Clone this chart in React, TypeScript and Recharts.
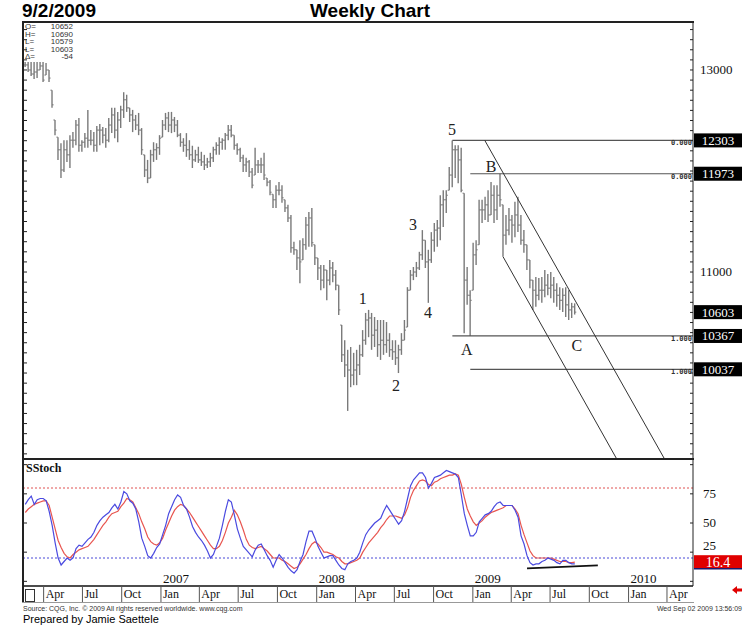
import { ComposedChart, Bar, Line, XAxis, YAxis, ReferenceLine, ReferenceDot } from 'recharts';

// x values are days since Jan 1 2006; first weekly bar is Fri Feb 17 2006
const FIRST_DAY = 47;

const HIGH = [
  13080, 13080, 13080, 13080, 13080, 13080, 13080, 13070, 13000, 12800,
  12505, 12335, 12275, 12305, 12305, 12355, 12385, 12505, 12525, 12305,
  12375, 12605, 12405, 12385, 12445, 12465, 12435, 12425, 12525, 12625,
  12625, 12585, 12645, 12780, 12755, 12625, 12605, 12555, 12575, 12425,
  12160, 12110, 12210, 12285, 12275, 12355, 12505, 12575, 12585, 12585,
  12535, 12505, 12375, 12325, 12375, 12305, 12250, 12210, 12240, 12190,
  12160, 12130, 12180, 12240, 12285, 12335, 12325, 12375, 12455, 12455,
  12355, 12275, 12230, 12160, 12130, 12110, 12030, 12230, 12110, 12130,
  12180, 11930, 11910, 11770, 11860, 11890, 11860, 11715, 11665, 11565,
  11300, 11220, 11315, 11335, 11545, 11595, 11635, 11270, 11140, 11070,
  11070, 11020, 11120, 11100, 11020, 10870, 10475, 10325, 10230, 10258,
  10200, 10230, 10280, 10425, 10595, 10625, 10595, 10555, 10525, 10525,
  10525, 10505, 10395, 10325, 10325, 10280, 10395, 10525, 10850, 11020,
  11050, 11100, 11200, 11415, 11315, 11220, 11395, 11485, 11515, 11760,
  11810, 11810, 12040, 12303, 12255, 12255, 12230, 11780, 11050, 10820,
  11290, 11315, 11715, 11715, 11745, 11810, 11890, 11860, 11860, 11973,
  11665, 11565, 11635, 11565, 11695, 11745, 11565, 11415, 11270, 11120,
  10920, 10950, 10940, 10950, 11020, 10980, 11000, 10950, 10890, 10850,
  10840, 10850, 10820, 10695, 10690,
];

const LOW = [
  13030, 12980, 12940, 12910, 12920, 13000, 12880, 12950, 12880, 12625,
  12355, 12110, 11930, 11990, 12090, 12030, 12230, 12255, 12190, 12190,
  12230, 12230, 12255, 12190, 12190, 12255, 12275, 12230, 12285, 12375,
  12325, 12285, 12425, 12525, 12585, 12485, 12385, 12405, 12355, 12160,
  11940, 11880, 11930, 12090, 12110, 12160, 12335, 12405, 12385, 12375,
  12385, 12335, 12240, 12190, 12140, 12110, 12030, 12090, 12080, 12050,
  12010, 12030, 12040, 12090, 12160, 12160, 12210, 12210, 12305, 12335,
  12210, 12160, 12090, 11990, 11990, 11940, 11830, 11960, 11980, 11980,
  11910, 11850, 11760, 11635, 11635, 11760, 11685, 11595, 11495, 11190,
  11170, 11020, 10890, 11120, 11220, 11250, 11250, 11070, 10920, 10820,
  10840, 10720, 10870, 10900, 10820, 10575, 10110, 9960, 9625, 9860,
  9880, 9880, 9980, 10160, 10280, 10355, 10230, 10258, 10160, 10130,
  10180, 10200, 10160, 10130, 10080, 10000, 10180, 10325, 10455, 10820,
  10920, 10950, 11020, 11120, 11040, 10695, 11090, 11200, 11250, 11315,
  11445, 11585, 11810, 11840, 11930, 11880, 11790, 10395, 10675, 10367,
  10820, 11070, 11270, 11485, 11515, 11495, 11565, 11485, 11515, 11645,
  11150, 11270, 11365, 11290, 11345, 11395, 11270, 11190, 11020, 10840,
  10625, 10655, 10720, 10695, 10750, 10770, 10740, 10695, 10655, 10625,
  10605, 10555, 10525, 10545, 10579,
];

const CLOSE = [
  13050, 13000, 12960, 12980, 13000, 13040, 12900, 13000, 12920, 12655,
  12405, 12210, 12010, 12210, 12160, 12305, 12305, 12455, 12255, 12285,
  12325, 12305, 12305, 12255, 12405, 12405, 12355, 12305, 12455, 12555,
  12405, 12505, 12605, 12705, 12625, 12555, 12505, 12455, 12405, 12210,
  12010, 11930, 12160, 12210, 12230, 12325, 12455, 12525, 12455, 12505,
  12455, 12355, 12285, 12255, 12210, 12160, 12110, 12160, 12110, 12090,
  12060, 12090, 12130, 12210, 12255, 12285, 12305, 12355, 12405, 12355,
  12255, 12210, 12130, 12060, 12090, 11990, 11860, 12060, 12060, 12060,
  11960, 11890, 11790, 11715, 11810, 11810, 11735, 11635, 11535, 11240,
  11220, 11140, 11100, 11270, 11465, 11535, 11290, 11140, 11040, 10920,
  11020, 10920, 11040, 10970, 10870, 10625, 10180, 10080, 10030, 9980,
  10030, 10080, 10180, 10325, 10525, 10545, 10375, 10425, 10280, 10325,
  10280, 10325, 10230, 10210, 10150, 10230, 10325, 10425, 10820, 10970,
  11000, 11040, 11170, 11315, 11100, 11120, 11315, 11415, 11435, 11665,
  11715, 11760, 11960, 12210, 12210, 12110, 11810, 10920, 10770, 10720,
  11170, 11220, 11615, 11615, 11665, 11565, 11760, 11615, 11760, 11715,
  11365, 11415, 11515, 11465, 11565, 11465, 11315, 11270, 11120, 10920,
  10820, 10770, 10820, 10820, 10870, 10840, 10870, 10820, 10770, 10720,
  10770, 10675, 10625, 10655, 10603,
];

const STOCH_K = [
  66, 70, 73, 66, 70, 71, 71, 69, 60, 48,
  33, 20, 14, 17, 20, 18, 20, 28, 31, 30,
  33, 36, 38, 42, 48, 52, 55, 57, 59, 63,
  66, 62, 68, 77, 75, 69, 67, 62, 51, 37,
  30, 22, 20, 24, 29, 32, 40, 48, 58, 64,
  70, 74, 72, 65, 62, 55, 47, 42, 38, 35,
  31, 26, 20, 23, 30, 37, 48, 60, 70, 68,
  57, 45, 37, 30, 27, 24, 21, 27, 31, 32,
  27, 22, 18, 12, 18, 23, 20, 16, 12, 9,
  7, 10, 17, 23, 34, 43, 43, 37, 30, 25,
  20, 21, 22, 22, 18, 14, 11, 10, 15, 17,
  18, 20, 25, 33, 40, 44, 47, 50, 52, 54,
  60, 65, 61, 57, 53, 49, 52, 60, 71, 82,
  87, 90, 93, 93, 89, 80, 84, 89, 90, 91,
  93, 95, 94, 93, 92, 89, 74, 58, 48, 39,
  39, 42, 51, 54, 57, 58, 60, 64, 67, 68,
  65, 65, 65, 65, 61, 55, 39, 32, 22, 16,
  14, 15, 15, 17, 18, 20, 19, 18, 16, 15,
  18, 18, 16, 15, 15,
];

const STOCH_D = [
  59, 62, 64, 66, 67, 68, 69, 69, 65, 55,
  45, 35, 29, 24, 21, 20, 23, 25, 27, 28,
  29, 30, 33, 36, 40, 44, 48, 51, 55, 58,
  59, 60, 64, 67, 71, 70, 68, 63, 58, 51,
  45, 38, 34, 32, 31, 33, 37, 44, 50, 56,
  61, 64, 66, 65, 62, 59, 55, 51, 47, 43,
  39, 35, 31, 28, 28, 30, 35, 42, 50, 55,
  61, 57, 51, 44, 36, 31, 29, 28, 29, 30,
  28, 26, 23, 20, 20, 20, 18, 17, 15, 13,
  11, 12, 15, 19, 23, 28, 32, 34, 32, 29,
  25, 25, 24, 23, 21, 20, 17, 15, 15, 16,
  17, 18, 20, 25, 29, 33, 36, 39, 42, 46,
  49, 53, 56, 56, 56, 55, 54, 57, 63, 72,
  78, 82, 86, 87, 86, 83, 82, 85, 86, 88,
  89, 90, 91, 91, 92, 91, 83, 72, 62, 56,
  51, 48, 50, 52, 55, 57, 59, 60, 61, 62,
  63, 65, 65, 65, 62, 58, 48, 40, 33, 26,
  22, 20, 20, 20, 20, 20, 20, 19, 18, 17,
  17, 17, 16, 16, 16.4,
];

const MONTH_TICKS = [90, 181, 273, 365, 455, 546, 638, 730, 821, 912, 1004, 1096, 1186, 1277, 1369, 1461, 1551];
const MONTH_LABELS = ['Apr', 'Jul', 'Oct', 'Jan', 'Apr', 'Jul', 'Oct', 'Jan', 'Apr', 'Jul', 'Oct', 'Jan', 'Apr', 'Jul', 'Oct', 'Jan', 'Apr'];
const YEAR_LABELS: Record<number, string> = { 365: '2007', 730: '2008', 1096: '2009', 1461: '2010' };

const X_DOMAIN = [44, 1612];
const PRICE_DOMAIN = [9159, 13475];
const STOCH_DOMAIN = [-4, 104];

const PRICE_LABELS = [13000, 11000];
const PRICE_TAGS = [12303, 11973, 10603, 10367, 10037];
const FIB_TEXT: Record<number, string> = { 12303: '0.000', 11973: '0.000', 10367: '1.000', 10037: '1.000' };
const LEVELS = [
  { price: 12303, from: 1048 },
  { price: 11973, from: 1090 },
  { price: 10367, from: 1048 },
  { price: 10037, from: 1090 },
];
const CHANNEL = [
  [{ x: 1124, y: 12303 }, { x: 1544, y: 9159 }],
  [{ x: 1167, y: 11150 }, { x: 1432, y: 9159 }],
];
const WAVES = [
  { text: '5', day: 1047, price: 12406 },
  { text: 'B', day: 1139, price: 12040 },
  { text: '3', day: 956, price: 11475 },
  { text: '1', day: 838, price: 10733 },
  { text: '4', day: 991, price: 10604 },
  { text: '2', day: 916, price: 9872 },
  { text: 'A', day: 1082, price: 10238 },
  { text: 'C', day: 1340, price: 10277 },
];

const STOCH_LABELS = [75, 50, 25];
const STOCH_LAST = 16.4;
const STOCH_TREND = [{ x: 1223, y: 11.1 }, { x: 1389, y: 13.7 }];

const INFO = [
  ['O=', '10652'],
  ['H=', '10690'],
  ['L=', '10579'],
  ['L=', '10603'],
  ['\u0394=', '-54'],
];

const SERIF = 'Liberation Serif, Times New Roman, serif';
const SANS = 'Liberation Sans, Arial, sans-serif';
const PLOT_LEFT = 24;

const rows = HIGH.map((high, i) => ({
  day: FIRST_DAY + 7 * i,
  range: [LOW[i], high],
  open: i === 0 ? CLOSE[0] : CLOSE[i - 1],
  close: CLOSE[i],
  k: STOCH_K[i],
  d: STOCH_D[i],
}));

const minorPriceTicks: number[] = [];
for (let p = 9200; p <= 13400; p += 100) minorPriceTicks.push(p);

function OhlcShape(props: any) {
  const { x, y, width, height, payload } = props;
  if (!payload) return null;
  const [lo, hi] = payload.range;
  const top = Math.min(y, y + height);
  const h = Math.abs(height);
  const cx = x + width / 2;
  const span = hi - lo || 1;
  const at = (v: number) => top + (Math.min(Math.max(hi - v, 0), span) / span) * h;
  return (
    <g stroke="#7a7a7a">
      <line x1={cx} x2={cx} y1={top} y2={top + h} strokeWidth={1.4} />
      <line x1={cx - 1.6} x2={cx} y1={at(payload.open)} y2={at(payload.open)} strokeWidth={1} />
      <line x1={cx} x2={cx + 1.6} y1={at(payload.close)} y2={at(payload.close)} strokeWidth={1} />
    </g>
  );
}

function PriceTick(props: any) {
  const { x, y, payload } = props;
  const v = payload.value;
  if (PRICE_TAGS.includes(v)) {
    return (
      <g>
        {FIB_TEXT[v] && (
          <text x={x - 1} y={y + 5} textAnchor="end" fontSize={7} fontWeight="bold" fontFamily="DejaVu Sans Mono, monospace" fill="#333">
            {FIB_TEXT[v]}
          </text>
        )}
        <rect x={x + 1} y={y - 7} width={48} height={14} fill="#000" />
        <text x={x + 25} y={y + 4.5} textAnchor="middle" fontSize={13} fontFamily={SERIF} fill="#fff">
          {v}
        </text>
      </g>
    );
  }
  return (
    <g>
      <line x1={x - 3} x2={x} y1={y} y2={y} stroke="#222" />
      <line x1={PLOT_LEFT} x2={PLOT_LEFT + 3} y1={y} y2={y} stroke="#222" />
      {PRICE_LABELS.includes(v) && (
        <text x={x + 7} y={y + 4} fontSize={13} fontFamily={SERIF} fill="#111">
          {v}
        </text>
      )}
    </g>
  );
}

function StochTick(props: any) {
  const { x, y, payload } = props;
  const v = payload.value;
  if (v === STOCH_LAST) {
    return (
      <g>
        <rect x={x + 1} y={y - 7} width={48} height={13} fill="#e00000" />
        <line x1={x + 1} x2={x + 49} y1={y + 6.5} y2={y + 6.5} stroke="#1a1a70" strokeWidth={1.5} />
        <text x={x + 25} y={y + 4.5} textAnchor="middle" fontSize={14} fontFamily={SERIF} fill="#fff">
          {v}
        </text>
      </g>
    );
  }
  // the 25 label sits just above the red value box
  const dy = v === 25 ? -2 : 4;
  return (
    <g>
      <line x1={x - 3} x2={x} y1={y} y2={y} stroke="#222" />
      <line x1={PLOT_LEFT} x2={PLOT_LEFT + 3} y1={y} y2={y} stroke="#222" />
      {STOCH_LABELS.includes(v) && (
        <text x={x + 10} y={y + dy} fontSize={13} fontFamily={SERIF} fill="#111">
          {v}
        </text>
      )}
    </g>
  );
}

function MonthTick(props: any) {
  const { x, y, payload } = props;
  const i = MONTH_TICKS.indexOf(payload.value);
  const year = YEAR_LABELS[payload.value];
  return (
    <g>
      <line x1={x} x2={x} y1={y} y2={y + 16} stroke="#555" />
      <text x={x + 2} y={y + 12} fontSize={12} fontFamily={SERIF} fill="#111">
        {MONTH_LABELS[i]}
      </text>
      {year && (
        <text x={x + 2} y={y - 3} fontSize={13} fontFamily={SERIF} fill="#111">
          {year}
        </text>
      )}
    </g>
  );
}

const line = (left: number, top: number, width: number, height: number, color = '#222') => (
  <div style={{ position: 'absolute', left, top, width, height, background: color }} />
);

export default function App() {
  return (
    <div style={{ position: 'absolute', left: 0, top: 0, width: 749, height: 628, background: '#fff', overflow: 'hidden' }}>
      <div style={{ position: 'absolute', left: 22, top: 1, fontFamily: SANS, fontWeight: 'bold', fontSize: 19, lineHeight: '19px', color: '#000' }}>
        9/2/2009
      </div>
      <div style={{ position: 'absolute', left: 310, top: 1, fontFamily: SANS, fontWeight: 'bold', fontSize: 19, lineHeight: '19px', color: '#000' }}>
        Weekly Chart
      </div>

      <div style={{ position: 'absolute', left: 0, top: 0 }}>
        <ComposedChart width={749} height={460} data={rows} margin={{ top: 22, right: 0, bottom: 2, left: PLOT_LEFT }}>
          <XAxis dataKey="day" type="number" domain={X_DOMAIN} hide allowDataOverflow />
          <YAxis
            orientation="right"
            width={56}
            domain={PRICE_DOMAIN}
            allowDataOverflow
            ticks={[...minorPriceTicks, ...PRICE_TAGS]}
            interval={0}
            tick={PriceTick}
            tickLine={false}
            tickSize={0}
            tickMargin={0}
            axisLine={{ stroke: '#222' }}
          />
          {LEVELS.map((l) => (
            <ReferenceLine
              key={l.price}
              segment={[{ x: l.from, y: l.price }, { x: X_DOMAIN[1], y: l.price }]}
              stroke="#555"
              strokeWidth={1.2}
              ifOverflow="hidden"
            />
          ))}
          {CHANNEL.map((seg, i) => (
            <ReferenceLine key={i} segment={seg} stroke="#333" strokeWidth={1} ifOverflow="hidden" />
          ))}
          <Bar dataKey="range" barSize={3} shape={OhlcShape} isAnimationActive={false} />
          {WAVES.map((w) => (
            <ReferenceDot
              key={w.text}
              x={w.day}
              y={w.price}
              r={1}
              ifOverflow="visible"
              shape={(p: any) => (
                <text x={p.cx} y={p.cy} textAnchor="middle" dominantBaseline="central" fontSize={16} fontFamily={SERIF} fill="#222">
                  {w.text}
                </text>
              )}
            />
          ))}
        </ComposedChart>
      </div>

      <div style={{ position: 'absolute', left: 0, top: 460 }}>
        <ComposedChart width={749} height={143} data={rows} margin={{ top: 0, right: 0, bottom: 0, left: PLOT_LEFT }}>
          <XAxis
            dataKey="day"
            type="number"
            domain={X_DOMAIN}
            allowDataOverflow
            ticks={MONTH_TICKS}
            interval={0}
            height={17}
            tick={MonthTick}
            tickLine={false}
            tickSize={0}
            tickMargin={0}
            axisLine={{ stroke: '#111', strokeWidth: 1.5 }}
          />
          <YAxis
            orientation="right"
            width={56}
            domain={STOCH_DOMAIN}
            allowDataOverflow
            ticks={[0, 25, 50, 75, 100, STOCH_LAST]}
            interval={0}
            tick={StochTick}
            tickLine={false}
            tickSize={0}
            tickMargin={0}
            axisLine={{ stroke: '#222' }}
          />
          <ReferenceLine y={80} stroke="#e05050" strokeDasharray="2 2" />
          <ReferenceLine y={20} stroke="#4848d8" strokeDasharray="2 2" />
          <Line type="linear" dataKey="d" stroke="#e8554f" strokeWidth={1.2} dot={false} isAnimationActive={false} />
          <Line type="linear" dataKey="k" stroke="#4a4ae0" strokeWidth={1.2} dot={false} isAnimationActive={false} />
          <ReferenceLine segment={STOCH_TREND} stroke="#111" strokeWidth={1.6} ifOverflow="hidden" />
        </ComposedChart>
      </div>

      {/* frame */}
      {line(22, 21, 672, 2)}
      {line(22, 21, 2, 582)}
      {line(22, 458, 672, 2)}
      {line(22, 602, 672, 1, '#999')}
      <div style={{ position: 'absolute', left: 25, top: 589, width: 8, height: 11, border: '1px solid #333' }} />

      <div style={{ position: 'absolute', left: 26, top: 461, fontFamily: SERIF, fontWeight: 'bold', fontSize: 12, color: '#111' }}>SStoch</div>

      {INFO.map(([label, value], i) => (
        <div key={i} style={{ position: 'absolute', left: 25, top: 23 + i * 7.6, width: 50, fontFamily: SANS, fontSize: 8, lineHeight: '8px', color: '#333' }}>
          <span>{label}</span>
          <span style={{ position: 'absolute', right: 2 }}>{value}</span>
        </div>
      ))}

      <svg style={{ position: 'absolute', left: 730, top: 585 }} width={14} height={12}>
        <polygon points="2,5 7,1 7,3.5 12,3.5 12,6.5 7,6.5 7,9" fill="#e00000" />
      </svg>

      <div style={{ position: 'absolute', left: 23, top: 605, fontFamily: SANS, fontSize: 7, lineHeight: '8px', color: '#333' }}>
        Source: CQG, Inc. &copy; 2009 All rights reserved worldwide. www.cqg.com
      </div>
      <div style={{ position: 'absolute', left: 23, top: 613, fontFamily: SANS, fontSize: 11, lineHeight: '13px', color: '#000' }}>
        Prepared by Jamie Saettele
      </div>
      <div style={{ position: 'absolute', right: 7, top: 605, fontFamily: SANS, fontSize: 7, lineHeight: '8px', color: '#333' }}>
        Wed Sep 02 2009 13:56:09
      </div>
    </div>
  );
}
